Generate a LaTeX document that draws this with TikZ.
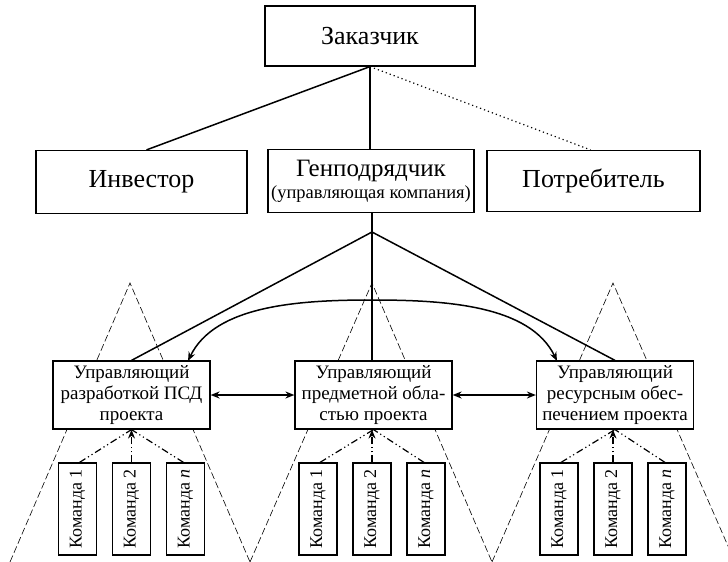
\documentclass[tikz,border=0pt]{standalone}
\usepackage{fontspec}
\setmainfont{Liberation Serif}
\usetikzlibrary{arrows.meta}
\begin{document}
\begin{tikzpicture}[x=1pt,y=-1pt,
  box/.style={draw, line width=1.2pt, fill=white, inner sep=1pt, align=center},
  bigbox/.style={box, font=\fontsize{26}{28}\selectfont},
  mgr/.style={box, minimum width=157pt, minimum height=68pt, font=\fontsize{19}{21}\selectfont},
  tbox/.style={draw, line width=1.2pt, fill=white, minimum width=92pt, minimum height=38pt, rotate=90, inner sep=0pt, font=\fontsize{18}{20}\selectfont},
  conn/.style={line width=1.5pt},
  dotc/.style={line width=1.2pt, dash pattern=on 1.2pt off 3pt},
  tri/.style={line width=0.6pt, dash pattern=on 7pt off 3pt},
  dd/.style={line width=1.2pt, dash pattern=on 7pt off 3pt on 1.2pt off 3pt on 1.2pt off 3pt},
  tip/.style={-{Stealth[length=9pt,width=7pt]}},
  dtip/.style={{Stealth[length=9pt,width=7pt]}-{Stealth[length=9pt,width=7pt]}}
]
\useasboundingbox (0,0) rectangle (728,562);
\clip (0,0) rectangle (728,562);

% dashed triangles (background)
\draw[tri] (10,562) -- (130,283) -- (250,562);
\draw[tri] (250,562) -- (372,283) -- (492,562);
\draw[tri] (492,562) -- (613,283) -- (735,562);

% top levels
\node[bigbox, minimum width=210pt, minimum height=60pt] (z) at (370,36) {Заказчик};
\node[bigbox, minimum width=211pt, minimum height=63pt] (inv) at (141.5,182) {Инвестор};
\node[box, minimum width=206pt, minimum height=63pt] (gen) at (371,181)
  {{\fontsize{25}{27}\selectfont Генподрядчик}\\[3pt]{\fontsize{18.5}{20}\selectfont (управляющая компания)}};
\node[bigbox, minimum width=213pt, minimum height=61pt] (pot) at (593.5,181) {Потребитель};

\coordinate (j) at (372,232);

% managers
\node[mgr] (m1) at (131.5,395) {Управляющий\\разработкой ПСД\\проекта};
\node[mgr] (m2) at (373.5,395) {Управляющий\\предметной обла-\\стью проекта};
\node[mgr] (m3) at (615,395) {Управляющий\\ресурсным обес-\\печением проекта};

% top connectors
\draw[conn] (z.south) -- ([xshift=5pt]inv.north);
\draw[conn] (z.south) -- (z.south |- gen.north);
\draw[dotc] (z.south) -- ([xshift=-3pt]pot.north);
\draw[conn] (gen.south -| j) -- (j);
\draw[conn] (j) -- (m1.north);
\draw[conn] (j) -- (j |- m2.north);
\draw[conn] (j) -- (m3.north);

% curved double arrow
\coordinate (c1) at (188,361);
\coordinate (c2) at (557,361);
\coordinate (ctop) at (372,300);
\draw[conn, dtip] (c1) .. controls (215,305) and (300,300) .. (ctop) .. controls (445,300) and (530,305) .. (c2);

% horizontal double arrows
\draw[conn, dtip] (m1.east) -- (m2.west);
\draw[conn, dtip] (m2.east) -- (m3.west);

% teams
\foreach \g/\cx in {1/131.5, 2/372, 3/613}{
  \node[tbox] (t\g a) at (\cx-54,509) {Команда 1};
  \node[tbox] (t\g b) at (\cx,509) {Команда 2};
  \node[tbox] (t\g c) at (\cx+54,509) {Команда \textit{n}};
}
\foreach \g in {1,2,3}{
  \draw[dd] ([xshift=2pt]t\g a.east) -- (m\g.south);
  \draw[dd] ([xshift=-2pt]t\g c.east) -- (m\g.south);
  \draw[dd, tip] (t\g b.east) -- (t\g b.east |- m\g.south);
}
\end{tikzpicture}
\end{document}
